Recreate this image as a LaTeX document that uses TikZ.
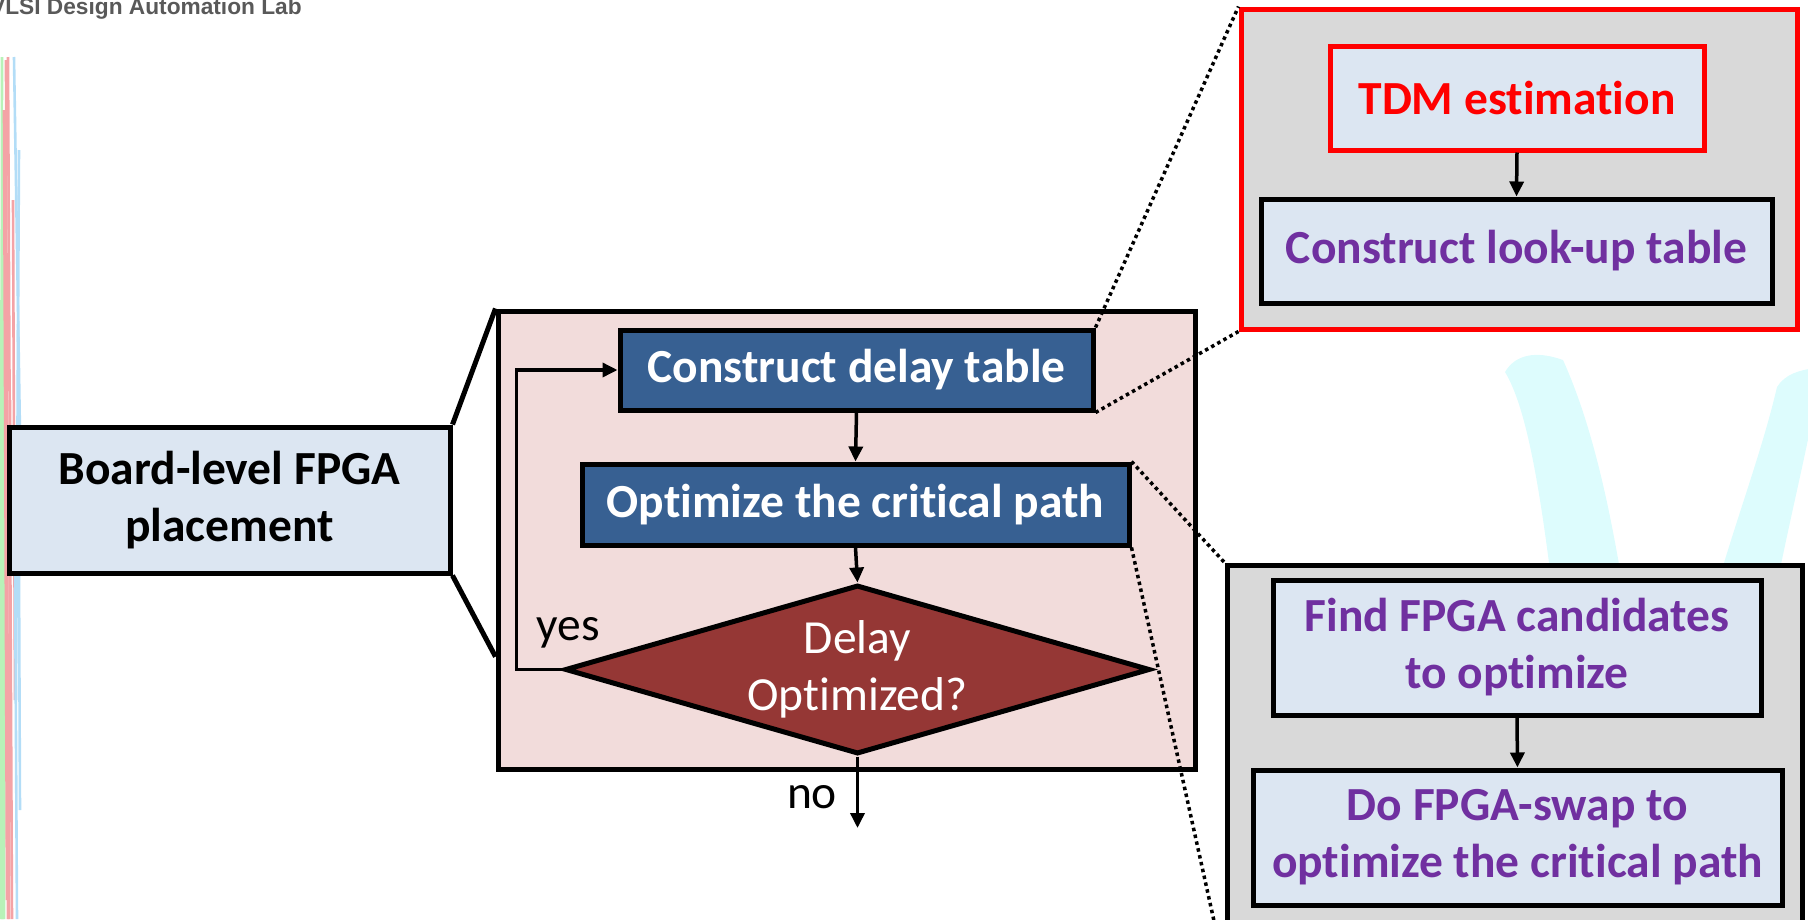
\documentclass[tikz,border=0pt]{standalone}
\usepackage{fontspec}
\setmainfont{Carlito}[Ligatures=NoCommon]
\newfontfamily\labfont{Liberation Sans}
\usetikzlibrary{arrows.meta,shapes.geometric,calc}

\definecolor{pinkbg}{HTML}{F2DCDB}
\definecolor{stepblue}{HTML}{376092}
\definecolor{decred}{HTML}{953735}
\definecolor{paleblue}{HTML}{DCE6F2}
\definecolor{panelgray}{HTML}{D9D9D9}
\definecolor{txtpurple}{HTML}{7030A0}
\definecolor{wmcyan}{HTML}{DDFCFD}
\definecolor{wmgreen}{HTML}{B8F2B8}
\definecolor{wmred}{HTML}{F4A3A6}
\definecolor{wmblue}{HTML}{B3DDF7}

\tikzset{
  big/.style={font=\fontsize{47.5}{57}\selectfont},
  bigbold/.style={font=\fontsize{47.5}{57}\selectfont\bfseries},
  box/.style={rectangle, draw=black, line width=5pt, inner sep=0pt, align=center},
  bluebox/.style={box, fill=stepblue, text=white, bigbold},
  lightbox/.style={box, fill=paleblue, bigbold},
  panel/.style={rectangle, draw=black, line width=5pt, fill=panelgray, inner sep=0pt},
  flow/.style={draw=black, line width=3.5pt, -{Triangle[length=15pt,width=14pt]}},
  link/.style={draw=black, line width=5pt},
  zoomline/.style={draw=black, line width=3.5pt, dash pattern=on 3.5pt off 3.5pt},
}

\begin{document}
\begin{tikzpicture}[x=1pt, y=-1pt]
\useasboundingbox (0,0) rectangle (1808,919);
\clip (0,0) rectangle (1808,919);

% watermark strokes at the left edge
\foreach \xa/\xb/\ya/\yb/\col in {
  2/1/57/919/wmgreen, 6/4/120/919/wmgreen, 1/3/300/919/wmgreen, 4/2/200/919/wmgreen,
  8/12/57/919/wmred, 4/7/110/900/wmred, 13/15/200/700/wmred, 10/9/400/919/wmred,
  6/8/60/919/wmred,
  14/22/57/560/wmblue, 18/20/330/810/wmblue, 15/17/560/919/wmblue, 19/16/150/700/wmblue}
  \draw[\col, line width=2.6pt] (\xa,\ya) -- (\xb,\yb);

% watermark "V" brush strokes on the right
\fill[wmcyan] (1505,372) .. controls (1515,355) and (1535,350) .. (1563,360)
  .. controls (1590,420) and (1610,500) .. (1628,620) -- (1556,620)
  .. controls (1542,500) and (1528,410) .. (1505,372) -- cycle;
\fill[wmcyan] (1777,387) .. controls (1785,374) and (1800,370) .. (1815,368)
  -- (1812,420) .. controls (1800,480) and (1785,540) .. (1770,620)
  -- (1708,620) .. controls (1728,540) and (1760,460) .. (1777,387) -- cycle;

% slide header
\node[anchor=base west, inner sep=0pt, text=black!65,
      font=\labfont\fontsize{22.7}{26}\selectfont\bfseries] (lab) at (-10,14)
  {VLSI Design Automation Lab};

% left: top-level step
\node[lightbox, minimum width=441pt, minimum height=146pt] (board) at (229.5,500)
  {Board-level FPGA\\placement};

% middle: expanded flow
\node[rectangle, draw=black, line width=5pt, fill=pinkbg, minimum width=697pt,
      minimum height=458pt] (pink) at (846.5,540) {};
\node[bluebox, minimum width=473pt, minimum height=80pt] (cdt) at (856.5,370)
  {Construct delay table};
\node[bluebox, minimum width=547pt, minimum height=81pt] (opt) at (855.5,504.5)
  {Optimize the critical path};
\node[diamond, draw=black, line width=5pt, fill=decred, inner sep=0pt,
      minimum width=585pt, minimum height=169pt] (dia) at (857.5,669.5) {};
\node[big, text=white, align=center, inner sep=0pt] (diatext) at (dia.center)
  {Delay\\Optimized?};

\draw[flow] (cdt.south) -- (opt.north);
\draw[flow] (opt.south) -- (dia.north);
\draw[flow] (dia.west) -- ++(-46,0) |- (cdt.west);
\coordinate (noend) at (857.5,828);
\draw[flow] (dia.south) -- (noend);
\node[big, inner sep=0pt] (yes) at (568,633) {yes};
\node[big, inner sep=0pt] (no) at (812,797) {no};

% connectors from the top-level step to its expansion
\coordinate (pinklow) at ($(pink.north west)!0.752!(pink.south west)$);
\draw[link] (board.north east) -- (pink.north west);
\draw[link] (board.south east) -- (pinklow);

% right top: detail of the delay table step
\node[panel, draw=red, minimum width=556pt, minimum height=320pt] (redpanel) at (1519,169) {};
\node[lightbox, draw=red, text=red, minimum width=374pt, minimum height=104pt] (tdm) at (1517,98)
  {TDM estimation};
\node[lightbox, text=txtpurple, minimum width=511pt, minimum height=104pt] (lut) at (1516.5,251)
  {Construct look-up table};
\draw[flow] (tdm.south) -- (lut.north);

% right bottom: detail of the optimisation step
\node[panel, minimum width=575pt, minimum height=401pt] (graypanel) at (1514.5,765.5) {};
\node[lightbox, text=txtpurple, minimum width=488pt, minimum height=135pt] (find) at (1517,647.5)
  {Find FPGA candidates\\to optimize};
\node[lightbox, text=txtpurple, minimum width=529pt, minimum height=135pt] (swap) at (1517.5,837.5)
  {Do FPGA-swap to\\optimize the critical path};
\draw[flow] (find.south) -- (swap.north);

% dotted zoom lines
\draw[zoomline] (cdt.north east) -- (redpanel.north west);
\draw[zoomline] (cdt.south east) -- (redpanel.south west);
\draw[zoomline] (opt.north east) -- (graypanel.north west);
\draw[zoomline] (opt.south east) -- (graypanel.south west);
\end{tikzpicture}
\end{document}
